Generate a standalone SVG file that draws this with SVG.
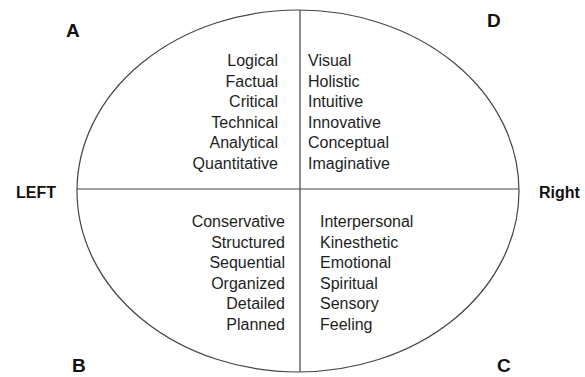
<svg xmlns="http://www.w3.org/2000/svg" width="585" height="377" viewBox="0 0 585 377">
<style>
.t{font-family:"Liberation Sans",Arial,sans-serif;font-size:16px;fill:#1e1e1e}
.r{text-anchor:end}
.h{font-family:"Liberation Sans",Arial,sans-serif;font-weight:bold;fill:#111}
.ln{stroke:#444;stroke-width:1.2;fill:none}
</style>
<rect width="585" height="377" fill="#fff"/>
<g id="connectors">
<ellipse class="ln" cx="298" cy="191" rx="221" ry="181"/>
<line class="ln" x1="77" y1="189" x2="519" y2="189"/>
<line class="ln" x1="300" y1="10" x2="300" y2="372"/>
</g>
<g id="labels">
<text class="h" x="66" y="37" font-size="19">A</text>
<text class="h" x="487" y="27" font-size="19">D</text>
<text class="h" x="72" y="372" font-size="19">B</text>
<text class="h" x="497" y="372" font-size="19">C</text>
<text class="h" x="16" y="198" font-size="16">LEFT</text>
<text class="h" x="539" y="198" font-size="16">Right</text>
</g>
<g id="quadA">
<text class="t r" x="278" y="66">Logical</text>
<text class="t r" x="278" y="86.5">Factual</text>
<text class="t r" x="278" y="107">Critical</text>
<text class="t r" x="278" y="127.5">Technical</text>
<text class="t r" x="278" y="148">Analytical</text>
<text class="t r" x="278" y="168.5">Quantitative</text>
</g>
<g id="quadD">
<text class="t" x="308" y="66">Visual</text>
<text class="t" x="308" y="86.5">Holistic</text>
<text class="t" x="308" y="107">Intuitive</text>
<text class="t" x="308" y="127.5">Innovative</text>
<text class="t" x="308" y="148">Conceptual</text>
<text class="t" x="308" y="168.5">Imaginative</text>
</g>
<g id="quadB">
<text class="t r" x="285" y="227">Conservative</text>
<text class="t r" x="285" y="247.5">Structured</text>
<text class="t r" x="285" y="268">Sequential</text>
<text class="t r" x="285" y="288.5">Organized</text>
<text class="t r" x="285" y="309">Detailed</text>
<text class="t r" x="285" y="329.5">Planned</text>
</g>
<g id="quadC">
<text class="t" x="320" y="227">Interpersonal</text>
<text class="t" x="320" y="247.5">Kinesthetic</text>
<text class="t" x="320" y="268">Emotional</text>
<text class="t" x="320" y="288.5">Spiritual</text>
<text class="t" x="320" y="309">Sensory</text>
<text class="t" x="320" y="329.5">Feeling</text>
</g>
</svg>
